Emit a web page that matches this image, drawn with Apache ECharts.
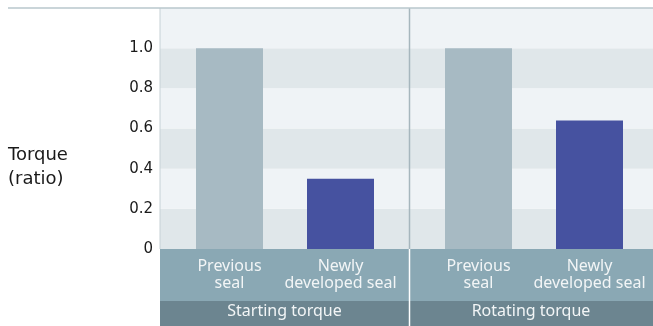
<!DOCTYPE html>
<html>
<head>
<meta charset="utf-8">
<script src="https://cdn.jsdelivr.net/npm/echarts@6/dist/echarts.min.js"></script>
<style>
  html, body { margin: 0; padding: 0; background: #fff; }
  #chart { width: 653px; height: 326px; }
</style>
</head>
<body>
<div id="chart"></div>
<script>
// data
const groups = ['Starting torque', 'Rotating torque'];
const seals = ['Previous\nseal', 'Newly\ndeveloped seal'];
const startingTorque = [1.0, 0.35];
const rotatingTorque = [1.0, 0.64];
const yTicks = [0, 0.2, 0.4, 0.6, 0.8, 1.0];

const sealColors = ['#a7bac3', '#4652a0'];
const yMax = 1.2;

const chart = echarts.init(document.getElementById('chart'));

// background grids (one per group) + inner grids for the bars
const grids = [
  { left: 160, top: 8, width: 249, height: 241 },
  { left: 409, top: 8, width: 244, height: 241 },
  { left: 174, top: 8, width: 222, height: 241 },
  { left: 423, top: 8, width: 222, height: 241 }
];

function yAxisFor(i, showLabels) {
  return {
    type: 'value', gridIndex: i, min: 0, max: yMax, interval: 0.2,
    axisLine: { show: false }, axisTick: { show: false },
    splitLine: { show: false },
    splitArea: { show: i < 2, areaStyle: { color: ['#e0e7ea', '#eff3f6'] } },
    axisLabel: {
      show: showLabels, margin: 7, color: '#1a1a1a', fontSize: 15,
      fontFamily: 'DejaVu Sans',
      formatter: v => yTicks.indexOf(Math.round(v * 10) / 10) < 0 ? '' : (v === 0 ? '0' : v.toFixed(1))
    }
  };
}

function groupAxis(i, name) {
  return {
    type: 'category', gridIndex: i, data: [name],
    axisLine: { show: false }, axisTick: { show: false },
    axisLabel: { margin: 54, color: '#f2f5f6', fontSize: 16, fontFamily: 'Noto Sans' }
  };
}

function sealAxis(i) {
  return {
    type: 'category', gridIndex: i, data: seals,
    axisLine: { show: false }, axisTick: { show: false },
    axisLabel: { margin: 9, color: '#f2f5f6', fontSize: 16, lineHeight: 17, fontFamily: 'Noto Sans', interval: 0 }
  };
}

function barSeries(i, values) {
  return {
    type: 'bar', xAxisIndex: i, yAxisIndex: i, barWidth: 67, silent: true,
    data: values.map((v, k) => ({ value: v, itemStyle: { color: sealColors[k] } }))
  };
}

chart.setOption({
  animation: false,
  grid: grids,
  xAxis: [groupAxis(0, groups[0]), groupAxis(1, groups[1]), sealAxis(2), sealAxis(3)],
  yAxis: [yAxisFor(0, true), yAxisFor(1, false), yAxisFor(2, false), yAxisFor(3, false)],
  graphic: [
    { type: 'rect', z: -1, shape: { x: 160, y: 249, width: 493, height: 52 }, style: { fill: '#8aa8b4' } },
    { type: 'rect', z: -1, shape: { x: 160, y: 301, width: 493, height: 25 }, style: { fill: '#6c8590' } },
    { type: 'line', z: 10, shape: { x1: 409.5, y1: 249, x2: 409.5, y2: 326 }, style: { stroke: '#ffffff', lineWidth: 1.5 } },
    { type: 'line', z: 10, shape: { x1: 409.5, y1: 8, x2: 409.5, y2: 249 }, style: { stroke: '#a6b6bd', lineWidth: 1.5 } },
    { type: 'line', z: 10, shape: { x1: 160, y1: 8, x2: 160, y2: 249 }, style: { stroke: '#c6d1d5', lineWidth: 1 } },
    { type: 'line', z: 10, shape: { x1: 8, y1: 8, x2: 653, y2: 8 }, style: { stroke: '#b9c7cd', lineWidth: 1.5 } },
    { type: 'text', left: 8, top: 143, style: { text: 'Torque\n(ratio)', fill: '#1a1a1a', font: '18px "DejaVu Sans"', lineHeight: 24 } }
  ],
  series: [barSeries(2, startingTorque), barSeries(3, rotatingTorque)]
});
</script>
</body>
</html>
